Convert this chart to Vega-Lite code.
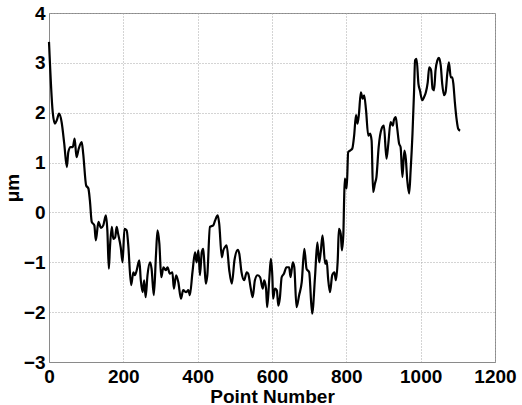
{
  "$schema": "https://vega.github.io/schema/vega-lite/v6.json",
  "width": 446,
  "height": 349,
  "autosize": "none",
  "padding": {"left": 49, "top": 13, "right": 27, "bottom": 43},
  "background": "white",
  "config": {
    "view": {"stroke": "#8a8a8a", "strokeWidth": 1},
    "font": "Liberation Sans"
  },
  "data": {
    "values": [
      {"x":0,"y":3.42},{"x":10,"y":2.01},{"x":16,"y":1.78},{"x":21,"y":1.85},{"x":27,"y":1.98},{"x":34,"y":1.81},{"x":41,"y":1.38},{"x":48,"y":0.91},{"x":52,"y":1.21},{"x":58,"y":1.31},{"x":64,"y":1.31},{"x":69,"y":1.48},{"x":74,"y":1.11},{"x":80,"y":1.28},{"x":88,"y":1.41},{"x":92,"y":1.18},{"x":100,"y":0.54},{"x":106,"y":0.48},{"x":110,"y":0.24},{"x":115,"y":-0.19},{"x":122,"y":-0.26},{"x":126,"y":-0.56},{"x":133,"y":-0.19},{"x":140,"y":-0.31},{"x":146,"y":-0.26},{"x":153,"y":-0.06},{"x":157,"y":-0.36},{"x":161,"y":-1.13},{"x":164,"y":-0.7},{"x":169,"y":-0.29},{"x":173,"y":-0.53},{"x":178,"y":-0.5},{"x":182,"y":-0.29},{"x":186,"y":-0.43},{"x":193,"y":-0.7},{"x":198,"y":-1.0},{"x":203,"y":-0.33},{"x":209,"y":-0.36},{"x":213,"y":-0.63},{"x":221,"y":-1.46},{"x":227,"y":-1.2},{"x":231,"y":-1.26},{"x":236,"y":-1.16},{"x":243,"y":-0.96},{"x":247,"y":-1.36},{"x":252,"y":-1.6},{"x":256,"y":-1.36},{"x":260,"y":-1.7},{"x":265,"y":-1.26},{"x":272,"y":-1.0},{"x":276,"y":-1.13},{"x":282,"y":-1.66},{"x":288,"y":-0.83},{"x":292,"y":-0.36},{"x":297,"y":-0.63},{"x":302,"y":-1.3},{"x":308,"y":-1.1},{"x":314,"y":-1.16},{"x":319,"y":-1.1},{"x":325,"y":-1.23},{"x":332,"y":-1.2},{"x":336,"y":-1.53},{"x":342,"y":-1.26},{"x":348,"y":-1.4},{"x":355,"y":-1.73},{"x":361,"y":-1.56},{"x":369,"y":-1.6},{"x":375,"y":-1.56},{"x":379,"y":-1.66},{"x":386,"y":-1.2},{"x":393,"y":-0.8},{"x":397,"y":-1.0},{"x":402,"y":-0.76},{"x":406,"y":-1.26},{"x":411,"y":-0.8},{"x":415,"y":-0.73},{"x":418,"y":-1.03},{"x":422,"y":-1.43},{"x":426,"y":-1.26},{"x":433,"y":-0.29},{"x":442,"y":-0.26},{"x":447,"y":-0.16},{"x":454,"y":-0.06},{"x":458,"y":-0.23},{"x":465,"y":-0.9},{"x":469,"y":-0.76},{"x":473,"y":-0.7},{"x":478,"y":-0.66},{"x":485,"y":-1.16},{"x":492,"y":-1.43},{"x":499,"y":-0.96},{"x":508,"y":-0.75},{"x":512,"y":-0.83},{"x":518,"y":-1.2},{"x":525,"y":-1.36},{"x":532,"y":-1.2},{"x":536,"y":-1.23},{"x":543,"y":-1.53},{"x":548,"y":-1.7},{"x":554,"y":-1.36},{"x":561,"y":-1.26},{"x":568,"y":-1.3},{"x":575,"y":-1.53},{"x":579,"y":-1.36},{"x":584,"y":-1.53},{"x":587,"y":-1.9},{"x":593,"y":-1.3},{"x":597,"y":-0.93},{"x":601,"y":-1.3},{"x":603,"y":-1.73},{"x":608,"y":-1.53},{"x":613,"y":-1.56},{"x":617,"y":-1.87},{"x":621,"y":-1.73},{"x":626,"y":-1.3},{"x":632,"y":-1.23},{"x":639,"y":-1.1},{"x":646,"y":-1.1},{"x":650,"y":-1.3},{"x":656,"y":-1.0},{"x":660,"y":-1.1},{"x":666,"y":-1.9},{"x":673,"y":-1.66},{"x":680,"y":-1.4},{"x":687,"y":-0.73},{"x":693,"y":-1.13},{"x":700,"y":-1.2},{"x":708,"y":-2.03},{"x":716,"y":-1.26},{"x":722,"y":-0.6},{"x":727,"y":-1.0},{"x":731,"y":-0.8},{"x":736,"y":-0.46},{"x":743,"y":-1.03},{"x":747,"y":-0.96},{"x":751,"y":-1.33},{"x":756,"y":-1.6},{"x":762,"y":-1.26},{"x":768,"y":-1.2},{"x":772,"y":-1.36},{"x":777,"y":-0.93},{"x":780,"y":-0.33},{"x":785,"y":-0.43},{"x":788,"y":-0.76},{"x":792,"y":-0.43},{"x":794,"y":0.24},{"x":796,"y":0.68},{"x":801,"y":0.48},{"x":805,"y":1.21},{"x":810,"y":1.24},{"x":816,"y":1.28},{"x":821,"y":1.54},{"x":826,"y":1.95},{"x":830,"y":1.78},{"x":834,"y":1.98},{"x":839,"y":2.41},{"x":844,"y":2.28},{"x":848,"y":2.35},{"x":853,"y":2.05},{"x":859,"y":1.54},{"x":864,"y":1.58},{"x":868,"y":1.44},{"x":872,"y":0.41},{"x":877,"y":0.58},{"x":881,"y":0.71},{"x":887,"y":1.31},{"x":895,"y":1.68},{"x":901,"y":1.74},{"x":908,"y":1.08},{"x":913,"y":1.38},{"x":919,"y":1.81},{"x":925,"y":1.74},{"x":928,"y":1.85},{"x":933,"y":1.91},{"x":937,"y":1.68},{"x":942,"y":1.38},{"x":946,"y":1.31},{"x":951,"y":0.71},{"x":956,"y":1.24},{"x":960,"y":1.08},{"x":964,"y":0.64},{"x":969,"y":0.38},{"x":973,"y":0.84},{"x":978,"y":1.58},{"x":982,"y":2.38},{"x":985,"y":3.05},{"x":989,"y":3.08},{"x":994,"y":2.58},{"x":998,"y":2.45},{"x":1004,"y":2.25},{"x":1009,"y":2.31},{"x":1014,"y":2.41},{"x":1019,"y":2.61},{"x":1023,"y":2.91},{"x":1028,"y":2.85},{"x":1032,"y":2.48},{"x":1036,"y":2.45},{"x":1040,"y":2.85},{"x":1045,"y":3.05},{"x":1049,"y":3.1},{"x":1054,"y":2.95},{"x":1058,"y":2.58},{"x":1063,"y":2.35},{"x":1067,"y":2.41},{"x":1072,"y":2.81},{"x":1076,"y":3.01},{"x":1081,"y":2.71},{"x":1085,"y":2.71},{"x":1088,"y":2.58},{"x":1092,"y":2.21},{"x":1097,"y":1.85},{"x":1101,"y":1.68},{"x":1106,"y":1.64}
    ]
  },
  "mark": {"type": "line", "color": "black", "strokeWidth": 2.2, "strokeJoin": "round", "interpolate": "monotone"},
  "encoding": {
    "x": {
      "field": "x", "type": "quantitative",
      "scale": {"domain": [0, 1200], "nice": false, "zero": false},
      "axis": {
        "title": "Point Number",
        "values": [0, 200, 400, 600, 800, 1000, 1200],
        "format": "d",
        "grid": true, "gridColor": "#a8a8a8", "gridDash": [1, 2], "gridWidth": 1,
        "domainColor": "#8a8a8a", "ticks": false,
        "labelFont": "Liberation Sans", "labelFontSize": 19, "labelFontWeight": "bold", "labelColor": "black",
        "labelPadding": 5, "labelFlush": false,
        "titleFont": "Liberation Sans", "titleFontSize": 19, "titleFontWeight": "bold", "titleColor": "black",
        "titlePadding": 1
      }
    },
    "y": {
      "field": "y", "type": "quantitative",
      "scale": {"domain": [-3, 4], "nice": false, "zero": false},
      "axis": {
        "title": "μm",
        "values": [-3, -2, -1, 0, 1, 2, 3, 4],
        "format": "d",
        "grid": true, "gridColor": "#a8a8a8", "gridDash": [1, 2], "gridWidth": 1,
        "domainColor": "#8a8a8a", "ticks": false,
        "labelFont": "Liberation Sans", "labelFontSize": 19, "labelFontWeight": "bold", "labelColor": "black",
        "labelPadding": 4, "labelFlush": false,
        "titleFont": "Liberation Sans", "titleFontSize": 19, "titleFontWeight": "bold", "titleColor": "black",
        "titlePadding": 1
      }
    }
  }
}
